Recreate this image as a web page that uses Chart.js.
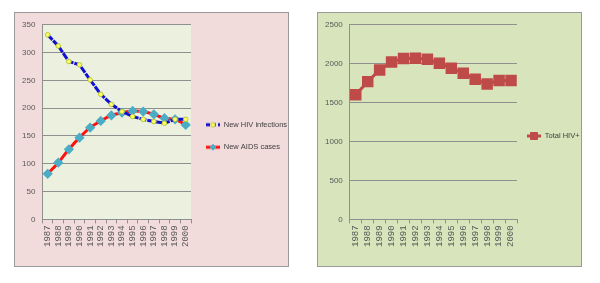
<!DOCTYPE html>
<html>
<head>
<meta charset="utf-8">
<script src="https://cdn.jsdelivr.net/npm/chart.js@4"></script>
<style>
  body { margin: 0; background: #fff; width: 600px; height: 283px; position: relative; overflow: hidden; }
  .panel { position: absolute; border: 1px solid #9a9a9a; box-sizing: border-box; }
  #leftPanel { left: 14px; top: 12px; width: 275px; height: 255px; background: #f2dcdb; }
  #rightPanel { left: 317px; top: 12px; width: 265px; height: 255px; background: #d7e4bc; }
  canvas { position: absolute; left: 0; top: 0; }
</style>
</head>
<body>
<div class="panel" id="leftPanel"><canvas id="leftChart" width="273" height="253"></canvas></div>
<div class="panel" id="rightPanel"><canvas id="rightChart" width="263" height="253"></canvas></div>
<script>
// values
const years = ['1987', '1988', '1989', '1990', '1991', '1992', '1993', '1994', '1995', '1996', '1997', '1998', '1999', '2000'];
const newHivInfections = [332, 312, 284, 278, 251, 225, 207, 194, 185, 180, 176, 173, 180, 180];
const newAidsCases = [82, 102, 126, 147, 165, 177, 187, 192, 195, 194, 189, 182, 180, 170];
const totalHivPositive = [1602, 1770, 1920, 2023, 2066, 2070, 2058, 2006, 1942, 1877, 1800, 1740, 1783, 1783];

const tickColor = '#595959';
const gridColor = '#8f8f8f';
const narrowFont = "'Liberation Sans Narrow', 'Liberation Sans', sans-serif";

// small picture of line + marker for the legend
function legendIcon(color, dash, marker, markerColor, markerBorder) {
    const c = document.createElement('canvas');
    c.width = 14;
    c.height = 10;
    const g = c.getContext('2d');
    g.strokeStyle = color;
    g.lineWidth = 3;
    g.setLineDash(dash);
    g.beginPath();
    g.moveTo(0, 5);
    g.lineTo(14, 5);
    g.stroke();
    g.setLineDash([]);
    g.fillStyle = markerColor;
    g.strokeStyle = markerBorder;
    g.lineWidth = 1;
    g.beginPath();
    if (marker === 'circle') {
        g.arc(7, 5, 2.2, 0, Math.PI * 2);
    } else if (marker === 'diamond') {
        g.moveTo(7, 2); g.lineTo(10, 5); g.lineTo(7, 8); g.lineTo(4, 5); g.closePath();
    } else {
        g.rect(3.5, 1.5, 7, 7);
    }
    g.fill();
    g.stroke();
    return c;
}

const plotBackground = {
    id: 'plotBackground',
    beforeDraw(chart, args, opts) {
        if (!opts.color) return;
        const { ctx, chartArea } = chart;
        ctx.save();
        ctx.fillStyle = opts.color;
        ctx.fillRect(chartArea.left, chartArea.top, chartArea.right - chartArea.left, chartArea.bottom - chartArea.top);
        ctx.restore();
    }
};

function axes(max, step, pad) {
    return {
        x: {
            offset: true,
            grid: { offset: true, drawOnChartArea: false, drawTicks: true, tickLength: 4, color: gridColor },
            border: { color: gridColor },
            ticks: {
                minRotation: 90, maxRotation: 90, autoSkip: false, padding: 2,
                color: tickColor, font: { family: 'Liberation Mono', size: 9 }
            }
        },
        y: {
            min: 0, max: max,
            grid: { drawTicks: false, color: gridColor },
            border: { color: gridColor },
            ticks: {
                stepSize: step, padding: pad,
                color: tickColor, font: { family: narrowFont, size: 8 },
                callback: v => String(v)
            }
        }
    };
}

function legendOptions(icons, maxWidth, padding) {
    return {
        position: 'right',
        maxWidth: maxWidth,
        labels: {
            usePointStyle: true,
            pointStyleWidth: 14,
            padding: padding,
            color: '#404040',
            font: { family: narrowFont, size: 7.5 },
            generateLabels(chart) {
                const items = Chart.defaults.plugins.legend.labels.generateLabels(chart);
                items.forEach((item, i) => { item.pointStyle = icons[i]; });
                return items;
            }
        }
    };
}

new Chart(document.getElementById('leftChart'), {
    type: 'line',
    data: {
        labels: years,
        datasets: [{
            label: 'New HIV infections',
            data: newHivInfections,
            borderColor: '#1010d0',
            borderWidth: 3,
            borderDash: [7, 1],
            tension: 0,
            pointStyle: 'circle',
            pointRadius: 2.3,
            pointBackgroundColor: '#ffff66',
            pointBorderColor: '#b8c830',
            pointBorderWidth: 1
        }, {
            label: 'New AIDS cases',
            data: newAidsCases,
            borderColor: '#ff1010',
            borderWidth: 3,
            tension: 0.35,
            pointStyle: 'rectRot',
            pointRadius: 3,
            pointBackgroundColor: '#4bacc6',
            pointBorderColor: '#4bacc6'
        }]
    },
    options: {
        animation: false,
        responsive: false,
        layout: { padding: { left: 0, top: 10, right: 0, bottom: 17 } },
        scales: axes(350, 50, 7),
        plugins: {
            plotBackground: { color: '#ebf1de' },
            legend: legendOptions([
                legendIcon('#1010d0', [4, 2], 'circle', '#ffff66', '#b8c830'),
                legendIcon('#ff1010', [], 'diamond', '#4bacc6', '#4bacc6')
            ], 97, 15),
            tooltip: { enabled: false }
        }
    },
    plugins: [plotBackground]
});

new Chart(document.getElementById('rightChart'), {
    type: 'line',
    data: {
        labels: years,
        datasets: [{
            label: 'Total HIV+',
            data: totalHivPositive,
            borderColor: '#be4b48',
            borderWidth: 3,
            tension: 0,
            pointStyle: 'rect',
            pointRadius: 6,
            pointBackgroundColor: '#be4b48',
            pointBorderColor: '#be4b48'
        }]
    },
    options: {
        animation: false,
        responsive: false,
        layout: { padding: { left: 0, top: 10, right: 0, bottom: 17 } },
        scales: axes(2500, 500, 7),
        plugins: {
            plotBackground: { color: null },
            legend: legendOptions([legendIcon('#be4b48', [], 'square', '#be4b48', '#be4b48')], 64, 10),
            tooltip: { enabled: false }
        }
    },
    plugins: [plotBackground]
});
</script>
</body>
</html>
